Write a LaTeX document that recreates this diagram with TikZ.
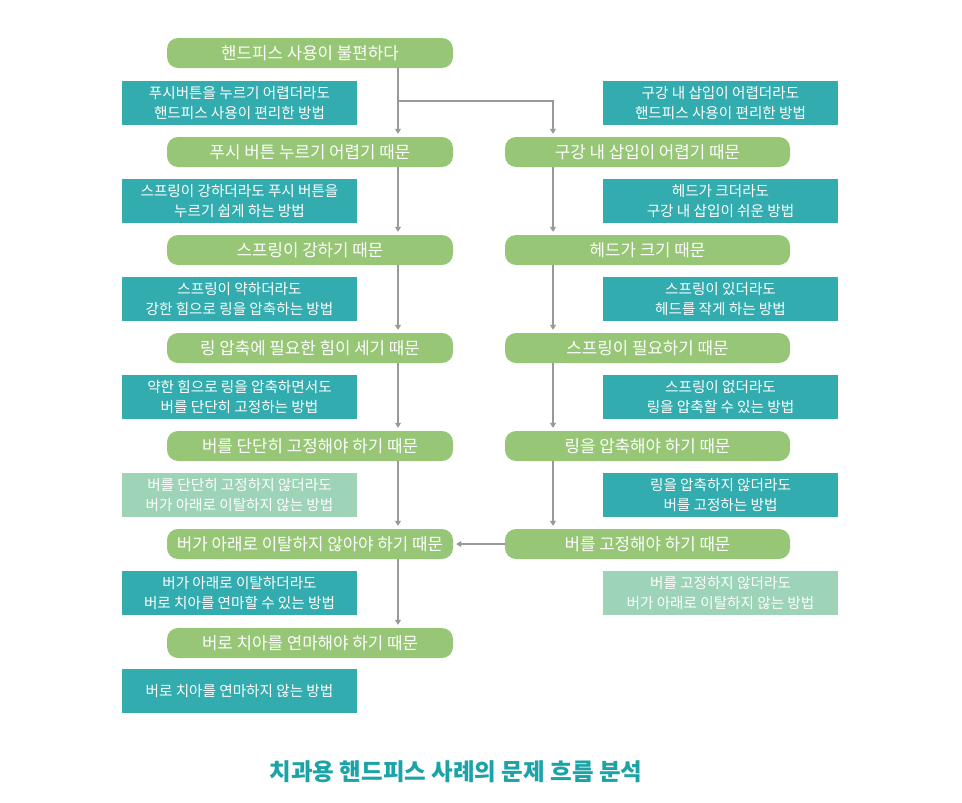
\documentclass[tikz,border=0pt]{standalone}
\usepackage{fontspec}
\setmainfont{Noto Sans CJK KR}
\usepackage{tikz}
\usetikzlibrary{arrows.meta}
\usetikzlibrary{calc,positioning}

\definecolor{leafgreen}{HTML}{96C676}
\definecolor{tealbox}{HTML}{33ACAF}
\definecolor{palebox}{HTML}{9DD4B7}
\definecolor{captionteal}{HTML}{1BA3A8}
\definecolor{flowgray}{HTML}{999999}

\begin{document}
\begin{tikzpicture}[x=1pt, y=-1pt, >={Triangle[length=5pt,width=6pt]},
    cause/.style={fill=leafgreen, rounded corners=11pt, minimum width=286pt, minimum height=30pt,
        text=white, inner sep=0pt, font=\fontsize{16.8}{18}\selectfont},
    idea/.style={fill=tealbox, minimum width=235pt, minimum height=44pt, text=white,
        align=center, inner sep=0pt, font=\fontsize{14.6}{20}\selectfont},
    paleidea/.style={idea, fill=palebox},
    flow/.style={draw=flowgray, line width=1.1pt, ->, shorten >=3pt}]
    \useasboundingbox (0,0) rectangle (962,803);

    % left column
    \node[cause] (top) at (310,53) {핸드피스 사용이 불편하다};
    \node[cause] (L1) at (310,152) {푸시 버튼 누르기 어렵기 때문};
    \node[cause] (L2) at (310,250) {스프링이 강하기 때문};
    \node[cause] (L3) at (310,348) {링 압축에 필요한 힘이 세기 때문};
    \node[cause] (L4) at (310,446) {버를 단단히 고정해야 하기 때문};
    \node[cause] (L5) at (310,544) {버가 아래로 이탈하지 않아야 하기 때문};
    \node[cause] (L6) at (310,643) {버로 치아를 연마해야 하기 때문};

    \node[idea] (tipL1) at (239.5,103) {푸시버튼을 누르기 어렵더라도\\핸드피스 사용이 편리한 방법};
    \node[idea] (tipL2) at (239.5,201) {스프링이 강하더라도 푸시 버튼을\\누르기 쉽게 하는 방법};
    \node[idea] (tipL3) at (239.5,299) {스프링이 약하더라도\\강한 힘으로 링을 압축하는 방법};
    \node[idea] (tipL4) at (239.5,397) {약한 힘으로 링을 압축하면서도\\버를 단단히 고정하는 방법};
    \node[paleidea] (tipL5) at (239.5,495) {버를 단단히 고정하지 않더라도\\버가 아래로 이탈하지 않는 방법};
    \node[idea] (tipL6) at (239.5,593) {버가 아래로 이탈하더라도\\버로 치아를 연마할 수 있는 방법};
    \node[idea] (tipL7) at (239.5,691) {버로 치아를 연마하지 않는 방법};

    % right column
    \node[cause, minimum width=285pt] (R1) at (647.5,152) {구강 내 삽입이 어렵기 때문};
    \node[cause, minimum width=285pt] (R2) at (647.5,250) {헤드가 크기 때문};
    \node[cause, minimum width=285pt] (R3) at (647.5,348) {스프링이 필요하기 때문};
    \node[cause, minimum width=285pt] (R4) at (647.5,446) {링을 압축해야 하기 때문};
    \node[cause, minimum width=285pt] (R5) at (647.5,544) {버를 고정해야 하기 때문};

    \node[idea] (tipR1) at (720.5,103) {구강 내 삽입이 어렵더라도\\핸드피스 사용이 편리한 방법};
    \node[idea] (tipR2) at (720.5,201) {헤드가 크더라도\\구강 내 삽입이 쉬운 방법};
    \node[idea] (tipR3) at (720.5,299) {스프링이 있더라도\\헤드를 작게 하는 방법};
    \node[idea] (tipR4) at (720.5,397) {스프링이 없더라도\\링을 압축할 수 있는 방법};
    \node[idea] (tipR5) at (720.5,495) {링을 압축하지 않더라도\\버를 고정하는 방법};
    \node[paleidea] (tipR6) at (720.5,593) {버를 고정하지 않더라도\\버가 아래로 이탈하지 않는 방법};

    % connectors
    \coordinate (spineL) at (398,0);
    \coordinate (spineR) at (553,0);
    \coordinate (fork) at (398,101);
    \foreach \a/\b in {top/L1, L1/L2, L2/L3, L3/L4, L4/L5, L5/L6}
        \draw[flow] (\a.south -| spineL) -- (\b.north -| spineL);
    \draw[flow] (fork) -| (R1.north -| spineR);
    \foreach \a/\b in {R1/R2, R2/R3, R3/R4, R4/R5}
        \draw[flow] (\a.south -| spineR) -- (\b.north -| spineR);
    \draw[flow] (R5.west) -- (L5.east);

    \node[text=captionteal, font=\fontsize{23.5}{26}\selectfont\bfseries] (caption) at (456,772)
        {치과용 핸드피스 사례의 문제 흐름 분석};
\end{tikzpicture}
\end{document}
